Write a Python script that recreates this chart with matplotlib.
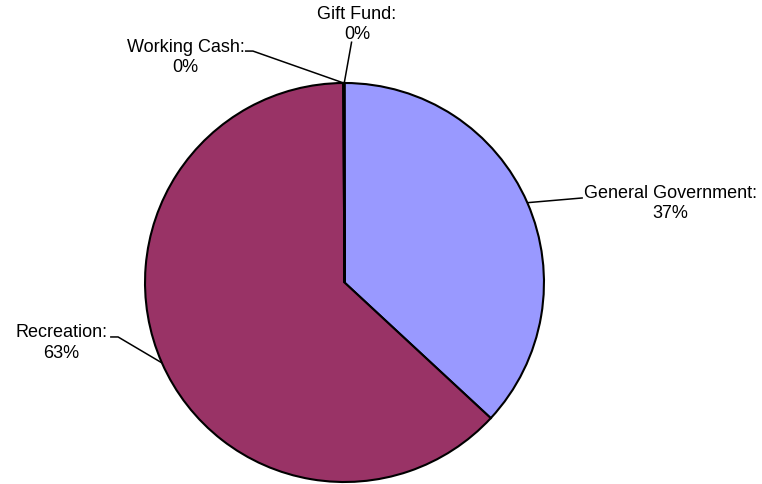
import numpy as np
import matplotlib
matplotlib.use('Agg')
import matplotlib.pyplot as plt

plt.rcParams['font.family'] = ['Liberation Sans', 'DejaVu Sans']

# data (share of total, percent)
categories = ['General Government', 'Recreation', 'Working Cash', 'Gift Fund']
values = [36.9, 63.0, 0.06, 0.04]
colors = ['#9999FF', '#993366', '#FFFFCC', '#CCFFFF']

# label text centres and leader line elbows (data units, pie radius = 1)
label_pos = [(1.634, 0.401), (-1.421, -0.300), (-0.796, 1.133), (0.062, 1.298)]
elbows = [[(1.195, 0.424)],
          [(-1.135, -0.273), (-1.175, -0.273)],
          [(-0.459, 1.160), (-0.499, 1.160)],
          [(0.036, 1.208)]]

fig = plt.figure(figsize=(7.62, 4.85), dpi=100)
ax = fig.add_axes([0, 0, 1, 1])

wedges, _ = ax.pie(values, colors=colors, startangle=90, counterclock=False,
                   wedgeprops=dict(edgecolor='black', linewidth=1.5))

total = sum(values)
for w, name, v, pos, elb in zip(wedges, categories, values, label_pos, elbows):
    mid = np.deg2rad((w.theta1 + w.theta2) / 2)
    pts = [(np.cos(mid), np.sin(mid))] + elb
    xs, ys = zip(*pts)
    ax.plot(xs, ys, color='black', lw=1.1, solid_capstyle='butt')
    ax.text(pos[0], pos[1], f'{name}:\n{v / total * 100:.0f}%', ha='center',
            va='center', fontsize=13, linespacing=1.3)

ax.set_xlim(-1.727, 2.093)
ax.set_ylim(-1.010, 1.421)
ax.set_aspect('auto')
ax.axis('off')

plt.savefig('out.png', dpi=100)
